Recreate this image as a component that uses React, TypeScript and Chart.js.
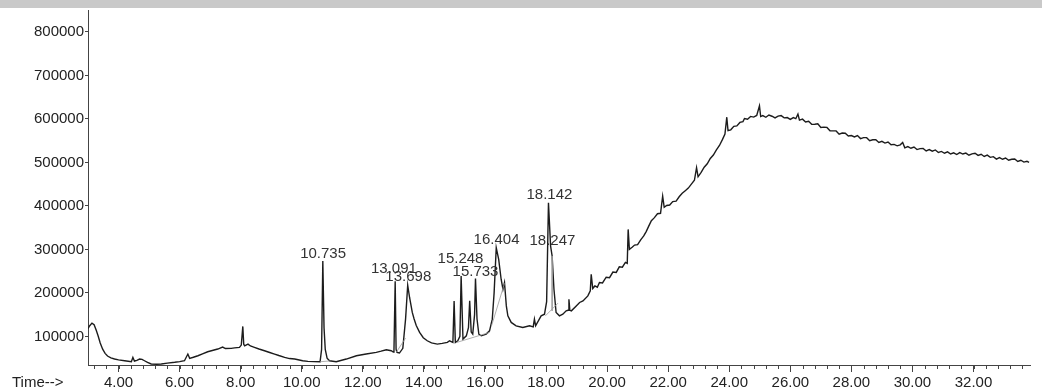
import React, { useEffect, useRef } from "react";
import { Chart, registerables } from "chart.js";

Chart.register(...registerables);

// Retention time (min)
const times: number[] = [
  3.0, 3.05, 3.13, 3.2, 3.27, 3.33, 3.4, 3.48, 3.56, 3.64, 3.75, 3.87, 4.0, 4.2, 4.42, 4.47, 4.52, 4.6, 4.69, 4.77,
  4.85, 4.95, 5.07, 5.25, 5.4, 5.6, 5.84, 6.0, 6.16, 6.27, 6.33, 6.45, 6.6, 6.75, 6.92, 7.1, 7.25, 7.41, 7.5, 7.69,
  7.8, 7.96, 8.02, 8.07, 8.1, 8.13, 8.24, 8.32, 8.45, 8.6, 8.78, 8.95, 9.11, 9.25, 9.44, 9.6, 9.77, 10.03, 10.2, 10.4,
  10.6, 10.65, 10.69, 10.73, 10.77, 10.83, 10.91, 11.13, 11.46, 11.79, 12.11, 12.44, 12.6, 12.77, 12.93, 13.0, 13.02, 13.06, 13.09, 13.12,
  13.2, 13.31, 13.4, 13.47, 13.53, 13.57, 13.62, 13.68, 13.75, 13.86, 13.98, 14.11, 14.25, 14.44, 14.6, 14.77, 14.84, 14.95, 14.99, 15.03,
  15.11, 15.18, 15.22, 15.28, 15.39, 15.46, 15.5, 15.55, 15.6, 15.66, 15.69, 15.74, 15.8, 15.88, 16.04, 16.15, 16.24, 16.3, 16.37, 16.45,
  16.53, 16.59, 16.64, 16.7, 16.75, 16.86, 17.02, 17.24, 17.46, 17.58, 17.62, 17.66, 17.84, 17.95, 18.02, 18.08, 18.15, 18.2, 18.26, 18.33,
  18.44, 18.55, 18.66, 18.72, 18.75, 18.78, 18.83, 18.99, 19.1, 19.21, 19.37, 19.45, 19.48, 19.53, 19.6, 19.68, 19.75, 19.85, 19.97, 20.08,
  20.19, 20.3, 20.4, 20.5, 20.6, 20.66, 20.69, 20.73, 20.82, 20.9, 21.0, 21.1, 21.2, 21.28, 21.36, 21.45, 21.55, 21.65, 21.75, 21.82,
  21.87, 21.95, 22.05, 22.15, 22.26, 22.36, 22.46, 22.56, 22.66, 22.76, 22.86, 22.93, 22.98, 23.08, 23.18, 23.28, 23.38, 23.48, 23.58, 23.68,
  23.78, 23.86, 23.92, 23.96, 24.05, 24.15, 24.25, 24.35, 24.45, 24.5, 24.6, 24.7, 24.8, 24.9, 24.99, 25.03, 25.1, 25.2, 25.3, 25.4,
  25.5, 25.6, 25.7, 25.8, 25.9, 26.0, 26.1, 26.18, 26.25, 26.3, 26.4, 26.5, 26.6, 26.7, 26.8, 26.9, 27.0, 27.1, 27.2, 27.3,
  27.4, 27.5, 27.6, 27.7, 27.8, 27.9, 28.0, 28.1, 28.2, 28.3, 28.4, 28.5, 28.6, 28.7, 28.8, 28.9, 29.0, 29.1, 29.2, 29.3,
  29.4, 29.5, 29.6, 29.68, 29.75, 29.85, 29.95, 30.05, 30.15, 30.25, 30.35, 30.45, 30.55, 30.65, 30.75, 30.85, 30.95, 31.05, 31.15, 31.25,
  31.35, 31.45, 31.55, 31.65, 31.75, 31.85, 31.95, 32.05, 32.15, 32.25, 32.35, 32.45, 32.55, 32.65, 32.75, 32.85, 32.95, 33.05, 33.15, 33.25,
  33.35, 33.45, 33.55, 33.65, 33.75, 33.82,
];

// Abundance
const abundance: number[] = [
  118000, 124000, 130500, 127000, 114000, 101300, 85000, 70600, 61000, 54800, 50500, 47900, 46000, 44000, 41700, 51800, 43300, 45000, 47900, 47000,
  44000, 40000, 36500, 36000, 36500, 38500, 40400, 42000, 44000, 59400, 49500, 52000, 55500, 60000, 64700, 68000, 70900, 75400, 72000, 72500,
  73500, 74800, 80000, 122900, 82000, 78400, 82300, 78000, 74800, 71000, 67000, 63000, 59400, 56000, 51800, 49000, 47900, 44000, 42500, 42000,
  41700, 70000, 273300, 120000, 70000, 50000, 44000, 41700, 47900, 55500, 59400, 63300, 66000, 69300, 67000, 64000, 66000, 226800, 70000, 63000,
  61700, 72500, 139600, 217600, 190000, 175000, 155000, 140000, 125000, 109100, 97000, 89900, 85000, 82300, 84000, 86200, 89900, 86200, 181600, 86200,
  89900, 100000, 238900, 93800, 101300, 120000, 181600, 110000, 105200, 150000, 233000, 140000, 105000, 101300, 105200, 112800, 139600, 200000, 304000, 277200,
  231400, 208400, 223800, 170100, 147200, 132100, 124300, 120600, 124300, 122000, 139600, 124300, 147200, 151100, 180000, 407200, 307700, 284800, 208400, 155000,
  147200, 151100, 158700, 160000, 185500, 160000, 158700, 170100, 178000, 181600, 193100, 205000, 242800, 210000, 216000, 213000, 224000, 223000, 236000, 235000,
  248000, 247000, 260000, 259000, 270000, 268000, 346000, 300000, 305000, 310000, 311000, 322000, 331000, 341000, 353000, 366000, 373000, 382000, 383000, 422400,
  397000, 401000, 402000, 410000, 411000, 421000, 429000, 435000, 441000, 450000, 459000, 488000, 467000, 477000, 489000, 497000, 509000, 517000, 529000, 539000,
  553000, 565000, 604000, 573000, 575000, 583000, 584000, 592000, 594000, 601000, 599400, 605800, 604200, 608100, 630300, 605500, 607700, 603800, 609000, 606200,
  602300, 606500, 607700, 602400, 603100, 598800, 603000, 600600, 611300, 597400, 599500, 593000, 594800, 587600, 587900, 588700, 580500, 581200, 580500, 572800,
  572500, 572500, 565000, 567500, 567000, 560700, 561800, 558500, 561700, 554800, 557000, 557000, 550000, 552000, 552000, 546000, 548500, 544500, 547000, 540500,
  541500, 538200, 540500, 546000, 533500, 536300, 532600, 535500, 529600, 531700, 532200, 526300, 529400, 526000, 528700, 523000, 525300, 521100, 524300, 519400,
  522000, 518100, 522700, 519300, 521400, 516600, 519800, 521000, 516200, 518700, 513700, 516700, 511700, 513200, 507700, 511000, 507300, 510200, 505000, 507300,
  508000, 502300, 505000, 500800, 502600, 500300,
];

// Integration baselines (start / end)
const baseStartT = [10.6, 13.1, 15.08, 16.22, 17.98, 18.2];
const baseStartV = [41700, 64000, 86200, 125000, 147200, 284800];
const baseEndT = [10.92, 13.4, 16.15, 16.64, 18.39, 18.2];
const baseEndV = [43500, 96000, 109100, 222000, 176300, 158700];

// Peak labels
const peakLabels = ["10.735", "13.091", "13.698", "15.248", "15.733", "16.404", "18.142", "18.247"];
const peakLabelTimes = [10.7, 13.02, 13.49, 15.2, 15.69, 16.38, 18.11, 18.21];
const peakLabelLevels = [279500, 246700, 227500, 268100, 238900, 311600, 416400, 309300];

const yTicks = [100000, 200000, 300000, 400000, 500000, 600000, 700000, 800000];
const xTicks = [4, 6, 8, 10, 12, 14, 16, 18, 20, 22, 24, 26, 28, 30, 32];
const axisTitle = "Time-->";

const FONT = "'Liberation Sans', Arial, sans-serif";

const decorPlugin = {
  id: "decor",
  beforeDraw(chart: any) {
    const ctx = chart.ctx;
    ctx.save();
    ctx.fillStyle = "#ffffff";
    ctx.fillRect(0, 0, chart.width, chart.height);
    ctx.fillStyle = "#c9c9c9";
    ctx.fillRect(0, 0, chart.width, 8);
    ctx.restore();
  },
  afterDraw(chart: any) {
    const ctx = chart.ctx;
    const xs = chart.scales.x;
    const ys = chart.scales.y;
    ctx.save();
    // minor ticks every 0.4 min
    ctx.strokeStyle = "#444";
    ctx.lineWidth = 1;
    ctx.beginPath();
    for (let i = 8; i <= 84; i++) {
      const v = i * 0.4;
      if (v > xs.max) break;
      const px = Math.round(xs.getPixelForValue(v)) + 0.5;
      ctx.moveTo(px, ys.bottom);
      ctx.lineTo(px, ys.bottom + 4);
    }
    ctx.stroke();
    // axis title
    ctx.fillStyle = "#222";
    ctx.font = `15px ${FONT}`;
    ctx.textAlign = "left";
    ctx.textBaseline = "middle";
    ctx.fillText(axisTitle, 12, 383);
    // peak labels
    ctx.fillStyle = "#333";
    ctx.textAlign = "center";
    ctx.textBaseline = "alphabetic";
    peakLabels.forEach((txt, i) => {
      ctx.fillText(txt, xs.getPixelForValue(peakLabelTimes[i]), ys.getPixelForValue(peakLabelLevels[i]));
    });
    ctx.restore();
  },
};

export default function App() {
  const ref = useRef<HTMLCanvasElement | null>(null);
  useEffect(() => {
    if (!ref.current) return;
    const traceData = times.map((t, i) => ({ x: t, y: abundance[i] }));
    const baseData: any[] = [];
    baseStartT.forEach((s, i) => {
      baseData.push({ x: s, y: baseStartV[i] });
      baseData.push({ x: baseEndT[i], y: baseEndV[i] });
      baseData.push({ x: baseEndT[i], y: null });
    });
    const chart = new Chart(ref.current, {
      type: "line",
      data: {
        datasets: [
          {
            data: baseData,
            borderColor: "#9a9a9a",
            borderWidth: 0.8,
            pointRadius: 0,
            spanGaps: false,
          },
          {
            data: traceData,
            borderColor: "#1c1c1c",
            borderWidth: 1.4,
            pointRadius: 0,
            tension: 0,
          },
        ],
      },
      options: {
        animation: false,
        responsive: false,
        events: [],
        layout: { padding: { left: 0, right: 12, top: 10, bottom: 0 } },
        plugins: { legend: { display: false }, tooltip: { enabled: false } },
        scales: {
          x: {
            type: "linear",
            min: 3.0,
            max: 33.85,
            afterBuildTicks: (s: any) => {
              s.ticks = xTicks.map((v) => ({ value: v }));
            },
            afterFit: (s: any) => {
              s.height = 27;
            },
            ticks: {
              autoSkip: false,
              maxRotation: 0,
              padding: 2,
              color: "#222",
              font: { family: FONT, size: 15 },
              callback: (v: any) => Number(v).toFixed(2),
            },
            grid: { drawOnChartArea: false, drawTicks: true, tickLength: 7, color: "#444" },
            border: { display: true, color: "#444", width: 1 },
          },
          y: {
            type: "linear",
            min: 34200,
            max: 850500,
            afterBuildTicks: (s: any) => {
              s.ticks = yTicks.map((v) => ({ value: v }));
            },
            afterFit: (s: any) => {
              s.width = 88;
            },
            ticks: {
              padding: 1,
              color: "#222",
              font: { family: FONT, size: 15 },
              callback: (v: any) => String(v),
            },
            grid: { drawOnChartArea: false, drawTicks: true, tickLength: 3, color: "#444" },
            border: { display: true, color: "#444", width: 1 },
          },
        },
      },
      plugins: [decorPlugin],
    });
    return () => chart.destroy();
  }, []);
  return (
    <div style={{ position: "fixed", left: 0, top: 0, width: 1042, height: 392, background: "#fff" }}>
      <canvas ref={ref} width={1042} height={392} style={{ display: "block" }} />
    </div>
  );
}
